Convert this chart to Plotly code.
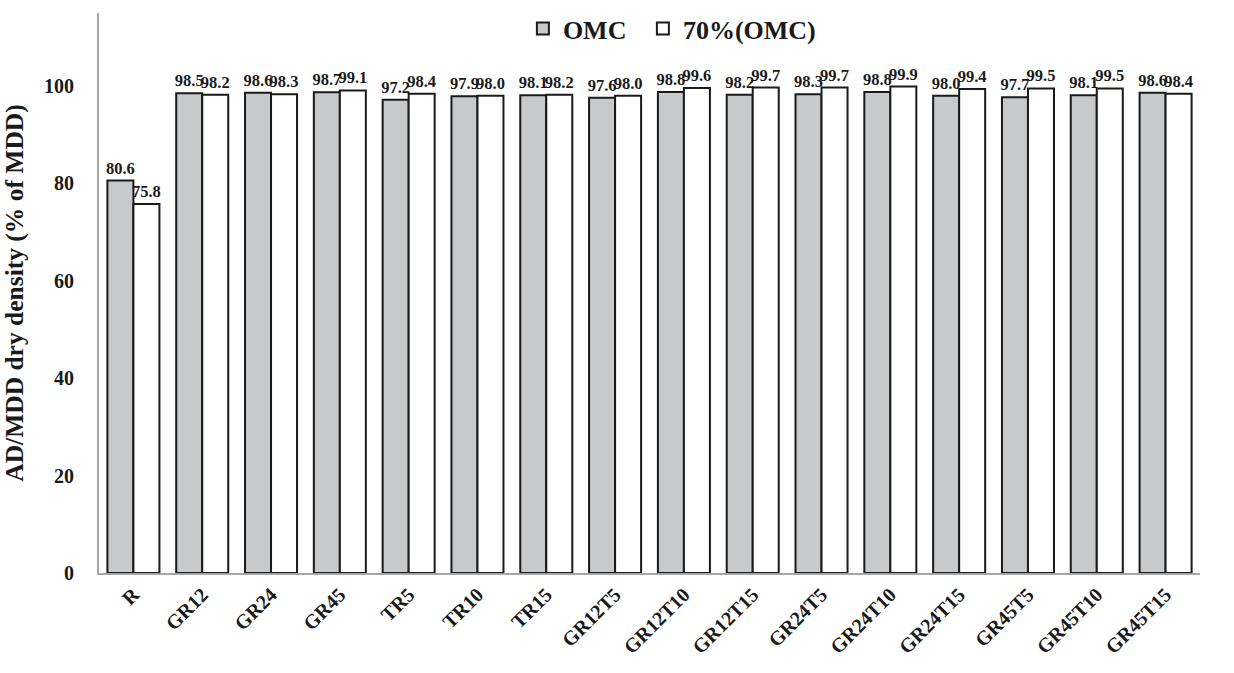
import plotly.graph_objects as go

categories = ["R", "GR12", "GR24", "GR45", "TR5", "TR10", "TR15", "GR12T5", "GR12T10",
              "GR12T15", "GR24T5", "GR24T10", "GR24T15", "GR45T5", "GR45T10", "GR45T15"]
omc = [80.6, 98.5, 98.6, 98.7, 97.2, 97.9, 98.1, 97.6, 98.8, 98.2, 98.3, 98.8, 98.0, 97.7, 98.1, 98.6]
omc70 = [75.8, 98.2, 98.3, 99.1, 98.4, 98.0, 98.2, 98.0, 99.6, 99.7, 99.7, 99.9, 99.4, 99.5, 99.5, 98.4]
y_ticks = [0, 20, 40, 60, 80, 100]

FONT = "Liberation Serif"
INK = "#1a1a1a"

fig = go.Figure()
fig.add_trace(go.Bar(
    x=categories, y=omc, name="OMC", legend="legend", showlegend=True,
    marker=dict(color="#c8c9cb", line=dict(color=INK, width=2)),
    text=[f"{v:.1f}" for v in omc], textposition="outside", textangle=0,
    constraintext="none", cliponaxis=False,
    textfont=dict(family=FONT, size=16.5, color=INK, weight="bold"),
))
fig.add_trace(go.Bar(
    x=categories, y=omc70, name="70%(OMC)", legend="legend2", showlegend=True,
    marker=dict(color="white", line=dict(color=INK, width=2)),
    text=[f"{v:.1f}" for v in omc70], textposition="outside", textangle=0,
    constraintext="none", cliponaxis=False,
    textfont=dict(family=FONT, size=16.5, color=INK, weight="bold"),
))

leg_common = dict(orientation="h", y=0.972, yanchor="middle", xanchor="left",
                  font=dict(family=FONT, size=26, color=INK, weight="bold"),
                  bgcolor="rgba(0,0,0,0)", itemwidth=30, visible=True)

fig.update_layout(
    width=1234, height=673,
    margin=dict(l=99, r=34, t=5, b=100),
    paper_bgcolor="white", plot_bgcolor="white",
    barmode="group", bargap=0.244, bargroupgap=0,
    showlegend=True,
    font=dict(family=FONT, color=INK),
    legend=dict(x=0.385, **leg_common),
    legend2=dict(x=0.494, **leg_common),
    xaxis=dict(showline=True, linecolor="#a6a6a6", linewidth=2, ticks="",
               tickangle=-45, automargin=False,
               tickfont=dict(family=FONT, size=20, color=INK, weight="bold"),
               showgrid=False),
    yaxis=dict(range=[0, 115], tickvals=y_ticks, showline=True, linecolor="#a6a6a6",
               linewidth=2, ticks="", showgrid=False, zeroline=False, automargin=False,
               tickfont=dict(family=FONT, size=20, color=INK, weight="bold"), ticklabelstandoff=19,
               title=dict(text="AD/MDD dry density (% of MDD)",
                          font=dict(family=FONT, size=25.5, color=INK, weight="bold"), standoff=18)),
)

fig.write_html("out.html", config={"displayModeBar": False},
               post_script="document.body.style.margin='0';")
